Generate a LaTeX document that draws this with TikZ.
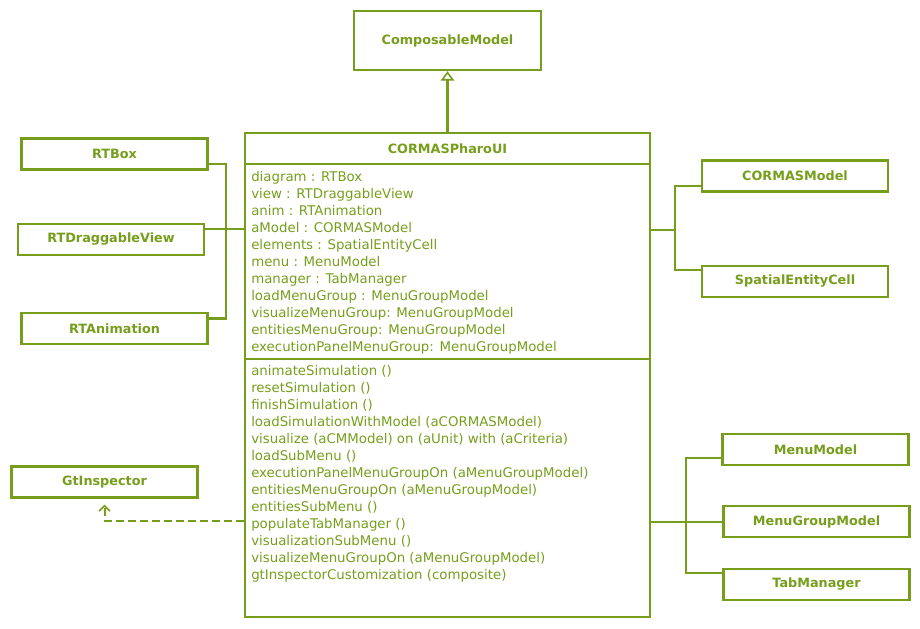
\documentclass[tikz,border=0pt]{standalone}
\usepackage{fontspec}
\setmainfont{DejaVu Sans}
\usepackage{tikz}
\usetikzlibrary{arrows.meta}
\usetikzlibrary{calc}
\definecolor{umlgreen}{RGB}{118,158,28}

\begin{document}
\begin{tikzpicture}[x=0.75pt, y=-0.75pt,
        class/.style={draw=umlgreen, line width=1.8pt, text=umlgreen, minimum width=139.5pt, minimum height=23.25pt, font=\fontsize{9.6}{11}\selectfont\bfseries, inner sep=0pt},
        members/.style={text=umlgreen, anchor=north west, align=left, inner sep=0pt, font=\fontsize{10}{12.7}\selectfont},
        link/.style={draw=umlgreen, line width=1.8pt},
        dep/.style={draw=umlgreen, line width=1.5pt, dash pattern=on 6pt off 3pt, -{Straight Barb[length=4pt, width=8pt, line width=1.2pt]}},
        inherit/.style={draw=umlgreen, line width=1.8pt, -{Triangle[open, fill=white, length=7pt, width=10pt, line width=1.2pt]}}]
        \useasboundingbox (0,0) rectangle (920,628);
        % super class and main class
        \node[class, minimum width=140.25pt, minimum height=44.25pt] (compose) at (447.5,40.5) {ComposableModel};
        \node[draw=umlgreen, line width=1.8pt, minimum width=303.75pt, minimum height=363pt, inner sep=0pt] (main) at (447.5,375) {};
        \node[text=umlgreen, font=\fontsize{9.6}{11}\selectfont\bfseries] (title) at (447.5,148.5) {CORMASPharoUI};
        \draw[link] (main.west |- 0,164) -- (main.east |- 0,164);
        \draw[link] (main.west |- 0,359) -- (main.east |- 0,359);
        \node[members] (attrs) at (251,171.5) {diagram : RTBox\\view : RTDraggableView\\anim : RTAnimation\\aModel : CORMASModel\\elements : SpatialEntityCell\\menu : MenuModel\\manager : TabManager\\loadMenuGroup : MenuGroupModel\\visualizeMenuGroup: MenuGroupModel\\entitiesMenuGroup: MenuGroupModel\\executionPanelMenuGroup: MenuGroupModel};
        \node[members] (meths) at (251,365.5) {animateSimulation ()\\resetSimulation ()\\finishSimulation ()\\loadSimulationWithModel (aCORMASModel)\\visualize (aCMModel) on (aUnit) with (aCriteria)\\loadSubMenu ()\\executionPanelMenuGroupOn (aMenuGroupModel)\\entitiesMenuGroupOn (aMenuGroupModel)\\entitiesSubMenu ()\\populateTabManager ()\\visualizationSubMenu ()\\visualizeMenuGroupOn (aMenuGroupModel)\\gtInspectorCustomization (composite)};
        \draw[inherit] (main.north) -- (compose.south);
        % left classes
        \node[class] (rtbox) at (114.5,154) {RTBox};
        \node[class] (rtview) at (111,239.5) {RTDraggableView};
        \node[class] (rtanim) at (114.5,328.5) {RTAnimation};
        \node[class] (gt) at (104.5,482) {GtInspector};
        \coordinate (ljoin) at (226,229);
        \draw[link] ([yshift=-7.5pt]rtbox.east) -| (ljoin) |- ([yshift=7.5pt]rtanim.east);
        \draw[link] (rtview.east |- ljoin) -- (main.west |- ljoin);
        \draw[dep] (main.west |- 0,521) -| ([yshift=-4.5pt]gt.south);
        % right classes
        \node[class] (cormas) at (795,176) {CORMASModel};
        \node[class] (spatial) at (795,281.5) {SpatialEntityCell};
        \coordinate (rjoin) at (675,230);
        \draw[link] (main.east |- rjoin) -- (rjoin);
        \draw[link] ([yshift=-7.5pt]cormas.west) -| (rjoin) |- ([yshift=8.5pt]spatial.west);
        \node[class] (menu) at (815.5,449.5) {MenuModel};
        \node[class] (mgroup) at (816.5,521.5) {MenuGroupModel};
        \node[class] (tab) at (816.5,584.5) {TabManager};
        \coordinate (mjoin) at (686,522);
        \draw[link] (main.east |- mjoin) -- (mgroup.west |- mjoin);
        \draw[link] ([yshift=-6.5pt]menu.west) -| (mjoin) |- ([yshift=8.5pt]tab.west);
    \end{tikzpicture}
\end{document}
